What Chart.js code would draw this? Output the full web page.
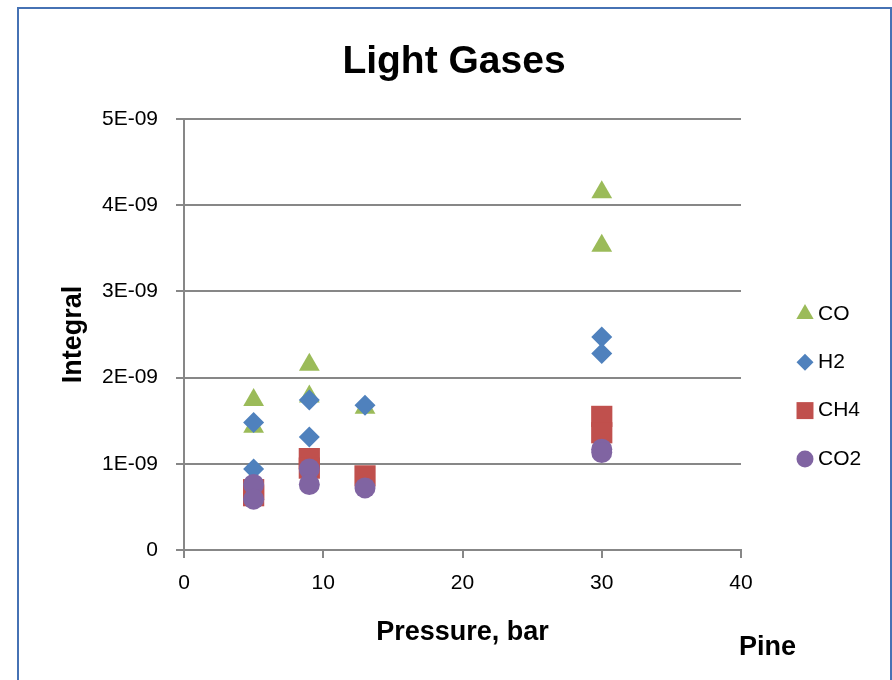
<!DOCTYPE html>
<html><head><meta charset="utf-8">
<script src="https://cdn.jsdelivr.net/npm/chart.js@4/dist/chart.umd.min.js"></script>
<style>
html,body{margin:0;padding:0;overflow:hidden;background:#fff;width:892px;height:680px}
#wrap{position:relative;width:892px;height:680px;overflow:hidden;background:#fff}
canvas{position:absolute;left:0;top:0}
#frame{position:absolute;left:17px;top:7px;width:875px;height:720px;border:2px solid #4672b4;border-bottom:none;box-sizing:border-box;pointer-events:none}
#pine{position:absolute;left:739px;top:630px;font:bold 27px 'Liberation Sans',Arial,sans-serif;line-height:32px;color:#000;white-space:nowrap}
</style></head>
<body><div id="wrap"><canvas id="c" width="908" height="680" style="width:908px;height:680px"></canvas><div id="frame"></div><div id="pine">Pine</div></div>
<script>
// ---- data ----
const pressure = [5, 5, 9, 9, 13, 30, 30];
const coValues  = [1.74e-9, 1.43e-9, 2.15e-9, 1.78e-9, 1.65e-9, 4.15e-9, 3.53e-9];
const h2Values  = [1.48e-9, 0.94e-9, 1.74e-9, 1.31e-9, 1.68e-9, 2.47e-9, 2.28e-9];
const ch4Values = [0.70e-9, 0.63e-9, 1.06e-9, 0.95e-9, 0.86e-9, 1.55e-9, 1.36e-9];
const co2Values = [0.76e-9, 0.59e-9, 0.94e-9, 0.76e-9, 0.72e-9, 1.17e-9, 1.13e-9];
const seriesNames = ['CO', 'H2', 'CH4', 'CO2'];
const xTickLabels = ['0', '10', '20', '30', '40'];
const yTickLabels = ['0', '1E-09', '2E-09', '3E-09', '4E-09', '5E-09'];

const F = "'Liberation Sans', Arial, sans-serif";
const GRID = '#878787';

function pts(vals) { return pressure.map((x, i) => ({ x: x, y: vals[i] })); }

const datasets = [
  { label: seriesNames[0], data: pts(coValues),  pointStyle: 'triangle', pointRadius: 12,   backgroundColor: '#9bbb59', order: 4, legendRadius: 10 },
  { label: seriesNames[1], data: pts(h2Values),  pointStyle: 'rectRot',  pointRadius: 10.5, backgroundColor: '#4f81bd', order: 3, legendRadius: 8.5 },
  { label: seriesNames[2], data: pts(ch4Values), pointStyle: 'rect',     pointRadius: 15,   backgroundColor: '#c0504d', order: 2, legendRadius: 12 },
  { label: seriesNames[3], data: pts(co2Values), pointStyle: 'circle',   pointRadius: 10.5, backgroundColor: '#8064a2', order: 1, legendRadius: 8.5 }
].map(d => Object.assign(d, { borderColor: d.backgroundColor, pointBorderWidth: 0, pointHoverRadius: d.pointRadius, showLine: false }));

function drawMarker(ctx, style, r, x, y) {
  if (window.Chart && Chart.helpers && Chart.helpers.drawPoint) {
    Chart.helpers.drawPoint(ctx, { pointStyle: style, radius: r, rotation: 0, borderWidth: 0 }, x, y);
    return;
  }
  ctx.beginPath();
  if (style === 'circle') ctx.arc(x, y, r, 0, Math.PI * 2);
  else if (style === 'rect') { const s = r * Math.SQRT1_2; ctx.rect(x - s, y - s, 2 * s, 2 * s); }
  else if (style === 'rectRot') { ctx.moveTo(x - r, y); ctx.lineTo(x, y - r); ctx.lineTo(x + r, y); ctx.lineTo(x, y + r); ctx.closePath(); }
  else { ctx.moveTo(x, y - r); ctx.lineTo(x + r * Math.sin(2.0944), y - r * Math.cos(2.0944)); ctx.lineTo(x + r * Math.sin(4.1888), y - r * Math.cos(4.1888)); ctx.closePath(); }
  ctx.fill();
}

const sideLegend = {
  id: 'sideLegend',
  afterDraw(chart) {
    const ctx = chart.ctx;
    const startY = 314, step = 48.3, markerX = 805, textX = 818;
    ctx.save();
    chart.data.datasets.forEach((ds, i) => {
      const y = startY + i * step;
      ctx.fillStyle = ds.backgroundColor;
      drawMarker(ctx, ds.pointStyle, ds.legendRadius, markerX, y);
      ctx.fillStyle = '#000';
      ctx.font = '21px ' + F;
      ctx.textAlign = 'left';
      ctx.textBaseline = 'middle';
      ctx.fillText(ds.label, textX, y);
    });
    ctx.restore();
  }
};

new Chart(document.getElementById('c'), {
  type: 'scatter',
  data: { datasets: datasets },
  plugins: [sideLegend],
  options: {
    responsive: false,
    animation: false,
    devicePixelRatio: 1,
    layout: { padding: 0 },
    plugins: {
      legend: { display: false },
      tooltip: { enabled: false },
      title: {
        display: true, text: 'Light Gases', color: '#000',
        font: { family: F, size: 39, weight: 'bold' },
        padding: { top: 38.6, bottom: 33.6 }
      }
    },
    scales: {
      x: {
        type: 'linear', min: 0, max: 40,
        ticks: { stepSize: 10, color: '#000', font: { family: F, size: 21 }, padding: 13,
                 callback: (v, i) => xTickLabels[i] },
        grid: { drawOnChartArea: false, drawTicks: true, tickLength: 8, color: GRID, lineWidth: 2 },
        border: { display: true, color: GRID, width: 2 },
        title: { display: true, text: 'Pressure, bar', color: '#000',
                 font: { family: F, size: 27, weight: 'bold' }, padding: { top: 0, bottom: 30.8 } },
        afterFit(s) { s.height = 130; }
      },
      y: {
        type: 'linear', min: 0, max: 5e-9,
        ticks: { stepSize: 1e-9, color: '#000', font: { family: F, size: 21 }, padding: 18,
                 callback: (v, i) => yTickLabels[i] },
        grid: { color: GRID, lineWidth: 2, tickLength: 8, drawTicks: true },
        border: { display: true, color: GRID, width: 2 },
        title: { display: true, text: 'Integral', color: '#000',
                 font: { family: F, size: 27, weight: 'bold' }, padding: { top: 57.8, bottom: 0 } },
        afterFit(s) { s.width = 184; }
      },
      legendSpace: {
        type: 'linear', position: 'right', min: 0, max: 1,
        ticks: { display: false }, grid: { display: false }, border: { display: false },
        title: { display: false },
        afterFit(s) { s.width = 167; }
      }
    }
  }
});
</script>
</body></html>
